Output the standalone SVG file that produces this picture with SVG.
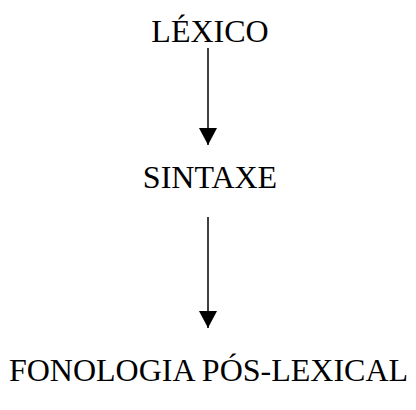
<svg xmlns="http://www.w3.org/2000/svg" width="416" height="410" viewBox="0 0 416 410">
<style>
text{font-family:"Liberation Serif","Times New Roman",serif;font-size:32px;fill:#000;text-anchor:middle}
.c line{stroke:#000;stroke-width:1.5}
</style>
<defs>
<marker id="ah" markerUnits="userSpaceOnUse" markerWidth="18" markerHeight="18" refX="17" refY="9" orient="auto" viewBox="0 0 18 18">
<path d="M0,0 L17,9 L0,18 Z" fill="#000"/>
</marker>
</defs>
<rect width="416" height="410" fill="#fff"/>
<g id="lexico"><text x="210" y="42">LÉXICO</text></g>
<g id="sintaxe"><text x="210" y="188">SINTAXE</text></g>
<g id="fonologia"><text x="208.5" y="381">FONOLOGIA PÓS-LEXICAL</text></g>
<g class="c" id="connectors">
<line x1="208" y1="48" x2="208" y2="145" marker-end="url(#ah)"/>
<line x1="208" y1="217" x2="208" y2="328" marker-end="url(#ah)"/>
</g>
</svg>
